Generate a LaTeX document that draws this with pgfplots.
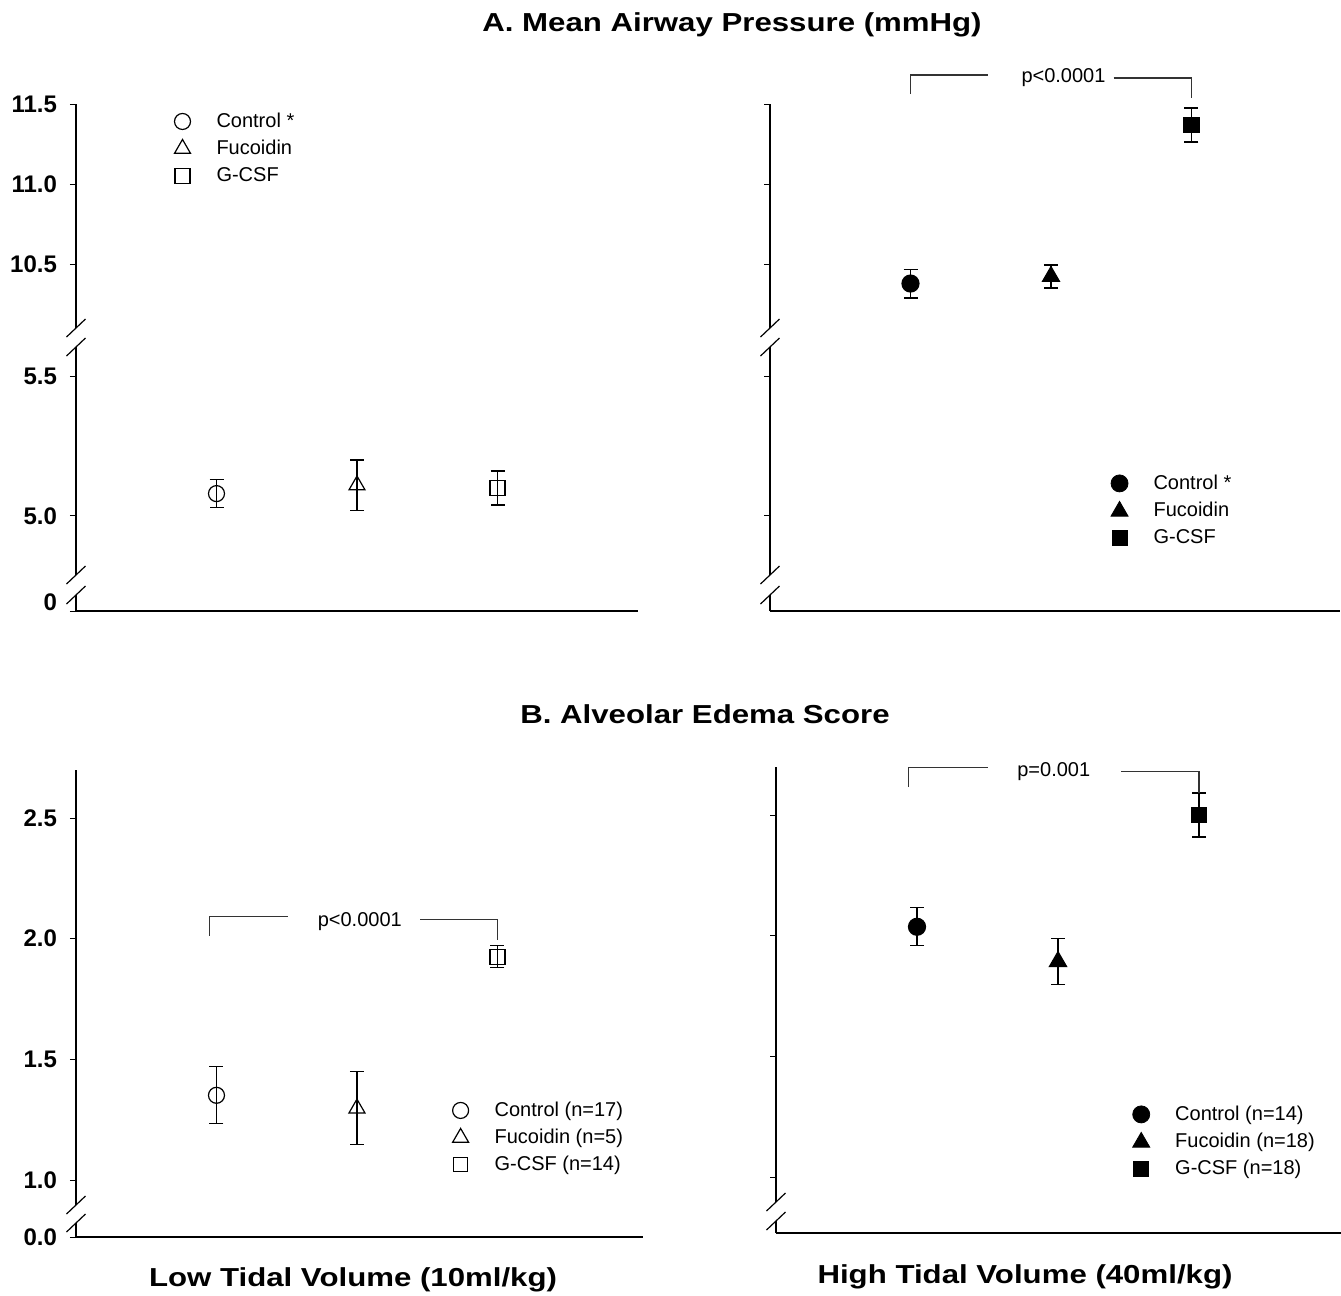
\documentclass[border=0pt]{standalone}
\usepackage{fontspec}
\setmainfont{Liberation Sans}
\usepackage{graphicx}
\usepackage{pgfplots}
\pgfplotsset{compat=1.18}
\pgfplotsset{
  base/.style={scale only axis, enlargelimits=false, clip=false,
    axis y line=left, axis line style={-, line width=0.6pt, black},
    tick align=outside, major tick length=3pt, tick style={line width=0.5pt, black},
    xtick=\empty, minor tick num=0, xmin=0,
    yticklabel style={font=\bfseries\fontsize{12}{14}\selectfont, xshift=-3pt}},
  seg/.style={base, axis x line=none},
  segx/.style={base, axis x line=bottom, x axis line style={-},
    every outer x axis line/.append style={-}, every inner x axis line/.append style={-}},
  eb/.style={only marks, black, line width=0.6pt,
    error bars/y dir=both, error bars/y explicit,
    error bars/error bar style={line width=0.6pt, black},
    error bars/error mark options={rotate=90, mark size=3.5pt, line width=0.6pt, black}},
  leg/.style={legend cell align=left,
    legend style={draw=none, fill=none, inner sep=0pt, font=\fontsize{10}{12}\selectfont, row sep=4.5pt, nodes={inner sep=0pt}},
    legend image code/.code={\draw[##1] plot coordinates {(0pt,0pt)}; \path[draw=none,fill=none] (-5pt,-4.5pt) (17pt,4.5pt);}},
}
\tikzset{brk/.style={line width=0.6pt, black}, brc/.style={line width=0.6pt, black!80}}
\begin{document}
\begin{tikzpicture}
\path[use as bounding box] (0,0) rectangle (670.5pt,-648pt);
% ---------------- A, low tidal volume ----------------
\begin{axis}[seg, leg, at={(38pt,-164pt)}, anchor=south west, width=281pt, height=112pt,
  xmax=4, ymin=10.1, ymax=11.5, ytick={10.5,11,11.5}, yticklabels={10.5,11.0,11.5},
  legend style={at={(0.171,0.964)}, anchor=north west}]
\addlegendimage{only marks, black, mark=o, mark size=4pt, line width=0.6pt}
\addlegendentry{Control *}
\addlegendimage{only marks, black, mark=triangle, mark size=4.6pt, line width=0.6pt}
\addlegendentry{Fucoidin}
\addlegendimage{only marks, black, mark=square, mark size=3.75pt, line width=0.6pt}
\addlegendentry{G-CSF}
\draw[brk] (rel axis cs:0,0) ++(-4.75pt,-4.5pt) -- ++(9.5pt,9pt);
\end{axis}
\begin{axis}[seg, at={(38pt,-287.5pt)}, anchor=south west, width=281pt, height=114pt,
  xmax=4, ymin=4.789, ymax=5.604, ytick={5,5.5}, yticklabels={5.0,5.5}]
\addplot[eb, mark=o, mark size=4pt] coordinates {(1,5.080) +- (0,0.051)};
\addplot[eb, mark=triangle, mark size=4.6pt] coordinates {(2,5.110) +- (0,0.090)};
\addplot[eb, mark=square, mark size=3.75pt] coordinates {(3,5.100) +- (0,0.061)};
\draw[brk] (rel axis cs:0,1) ++(-4.75pt,-4.5pt) -- ++(9.5pt,9pt);
\draw[brk] (rel axis cs:0,0) ++(-4.75pt,-4.5pt) -- ++(9.5pt,9pt);
\end{axis}
\begin{axis}[segx, at={(38pt,-305.5pt)}, anchor=south west, width=281pt, height=8pt,
  xmax=4, ymin=0, ymax=1, ytick={0}, yticklabels={0}, yticklabel style={yshift=4.5pt}]
\draw[brk] (rel axis cs:0,1) ++(-4.75pt,-4.5pt) -- ++(9.5pt,9pt);
\end{axis}
% ---------------- A, high tidal volume ----------------
\begin{axis}[seg, at={(385pt,-164pt)}, anchor=south west, width=285pt, height=112pt,
  xmax=4.057, ymin=10.1, ymax=11.5, ytick={10.5,11,11.5}, yticklabels={}]
\addplot[eb, mark=*, mark size=4.25pt, mark options={fill=black}] coordinates {(1,10.378) +- (0,0.090)};
\addplot[eb, mark=triangle*, mark size=4.9pt, mark options={fill=black}] coordinates {(2,10.422) +- (0,0.072)};
\addplot[eb, mark=square*, mark size=3.75pt, mark options={fill=black}] coordinates {(3,11.369) +- (0,0.106)};
\draw[brc] (axis cs:1,11.5625) -- (axis cs:1,11.681) -- (axis cs:1.555,11.681);
\draw[brc] (axis cs:2.445,11.6625) -- (axis cs:3,11.6625) -- (axis cs:3,11.5375);
\node[font=\fontsize{10}{12}\selectfont] at (axis cs:2.089,11.663) {p<0.0001};
\draw[brk] (rel axis cs:0,0) ++(-4.75pt,-4.5pt) -- ++(9.5pt,9pt);
\end{axis}
\begin{axis}[seg, leg, at={(385pt,-287.5pt)}, anchor=south west, width=285pt, height=114pt,
  xmax=4.057, ymin=4.789, ymax=5.604, ytick={5,5.5}, yticklabels={},
  legend style={at={(0.595,0.443)}, anchor=north west}]
\addlegendimage{only marks, black, mark=*, mark size=4.25pt, mark options={fill=black}}
\addlegendentry{Control *}
\addlegendimage{only marks, black, mark=triangle*, mark size=4.9pt, mark options={fill=black}}
\addlegendentry{Fucoidin}
\addlegendimage{only marks, black, mark=square*, mark size=3.75pt, mark options={fill=black}}
\addlegendentry{G-CSF}
\draw[brk] (rel axis cs:0,1) ++(-4.75pt,-4.5pt) -- ++(9.5pt,9pt);
\draw[brk] (rel axis cs:0,0) ++(-4.75pt,-4.5pt) -- ++(9.5pt,9pt);
\end{axis}
\begin{axis}[segx, at={(385pt,-305.5pt)}, anchor=south west, width=285pt, height=8pt,
  xmax=4.057, ymin=0, ymax=1, ytick=\empty]
\draw[brk] (rel axis cs:0,1) ++(-4.75pt,-4.5pt) -- ++(9.5pt,9pt);
\end{axis}
% ---------------- B, low tidal volume ----------------
\begin{axis}[seg, leg, at={(38pt,-602.5pt)}, anchor=south west, width=283.5pt, height=217.5pt,
  xmax=4.036, ymin=0.8964, ymax=2.699, ytick={1,1.5,2,2.5}, yticklabels={1.0,1.5,2.0,2.5},
  legend style={at={(0.660,0.239)}, anchor=north west}]
\addlegendimage{only marks, black, mark=o, mark size=4pt, line width=0.6pt}
\addlegendentry{Control (n=17)}
\addlegendimage{only marks, black, mark=triangle, mark size=4.6pt, line width=0.6pt}
\addlegendentry{Fucoidin (n=5)}
\addlegendimage{only marks, black, mark=square, mark size=3.5pt, line width=0.6pt}
\addlegendentry{G-CSF (n=14)}
\addplot[eb, mark=o, mark size=4pt] coordinates {(1,1.351) +- (0,0.118)};
\addplot[eb, mark=triangle, mark size=4.6pt] coordinates {(2,1.297) +- (0,0.151)};
\addplot[eb, mark=square, mark size=3.75pt] coordinates {(3,1.925) +- (0,0.046)};
\draw[brc] (axis cs:0.95,2.012) -- (axis cs:0.95,2.091) -- (axis cs:1.51,2.091);
\draw[brc] (axis cs:2.45,2.079) -- (axis cs:3,2.079) -- (axis cs:3,1.996);
\node[font=\fontsize{10}{12}\selectfont] at (axis cs:2.02,2.07) {p<0.0001};
\draw[brk] (rel axis cs:0,0) ++(-4.75pt,-4.5pt) -- ++(9.5pt,9pt);
\end{axis}
\begin{axis}[segx, at={(38pt,-618.5pt)}, anchor=south west, width=283.5pt, height=7pt,
  xmax=4.036, ymin=0, ymax=1, ytick={0}, yticklabels={0.0}]
\draw[brk] (rel axis cs:0,1) ++(-4.75pt,-4.5pt) -- ++(9.5pt,9pt);
\end{axis}
% ---------------- B, high tidal volume ----------------
\begin{axis}[seg, leg, at={(388pt,-601pt)}, anchor=south west, width=282.5pt, height=217.5pt,
  xmax=4.007, ymin=0.8964, ymax=2.699, ytick={1,1.5,2,2.5}, yticklabels={},
  legend style={at={(0.628,0.223)}, anchor=north west}]
\addlegendimage{only marks, black, mark=*, mark size=4.25pt, mark options={fill=black}}
\addlegendentry{Control (n=14)}
\addlegendimage{only marks, black, mark=triangle*, mark size=4.9pt, mark options={fill=black}}
\addlegendentry{Fucoidin (n=18)}
\addlegendimage{only marks, black, mark=square*, mark size=3.75pt, mark options={fill=black}}
\addlegendentry{G-CSF (n=18)}
\addplot[eb, mark=*, mark size=4.25pt, mark options={fill=black}] coordinates {(1,2.037) +- (0,0.079)};
\addplot[eb, mark=triangle*, mark size=4.9pt, mark options={fill=black}] coordinates {(2,1.893) +- (0,0.095)};
\addplot[eb, mark=square*, mark size=3.75pt, mark options={fill=black}] coordinates {(3,2.500) +- (0,0.091)};
\draw[brc] (axis cs:0.94,2.616) -- (axis cs:0.94,2.698) -- (axis cs:1.50,2.698);
\draw[brc] (axis cs:2.45,2.682) -- (axis cs:3,2.682) -- (axis cs:3,2.591);
\node[font=\fontsize{10}{12}\selectfont] at (axis cs:1.97,2.678) {p=0.001};
\draw[brk] (rel axis cs:0,0) ++(-4.75pt,-4.5pt) -- ++(9.5pt,9pt);
\end{axis}
\begin{axis}[segx, at={(388pt,-616.5pt)}, anchor=south west, width=282.5pt, height=6pt,
  xmax=4.007, ymin=0, ymax=1, ytick=\empty]
\draw[brk] (rel axis cs:0,1) ++(-4.75pt,-4.5pt) -- ++(9.5pt,9pt);
\end{axis}
% ---------------- titles ----------------
\node[font=\bfseries\fontsize{13}{15}\selectfont] at (366pt,-12.5pt) {\scalebox{1.2}[1]{A. Mean Airway Pressure (mmHg)}};
\node[font=\bfseries\fontsize{13}{15}\selectfont] at (352.5pt,-357pt) {\scalebox{1.2}[1]{B. Alveolar Edema Score}};
\node[font=\bfseries\fontsize{13}{15}\selectfont] at (176.5pt,-640pt) {\scalebox{1.2}[1]{Low Tidal Volume (10ml/kg)}};
\node[font=\bfseries\fontsize{13}{15}\selectfont] at (512.5pt,-638.5pt) {\scalebox{1.2}[1]{High Tidal Volume (40ml/kg)}};
\end{tikzpicture}
\end{document}
